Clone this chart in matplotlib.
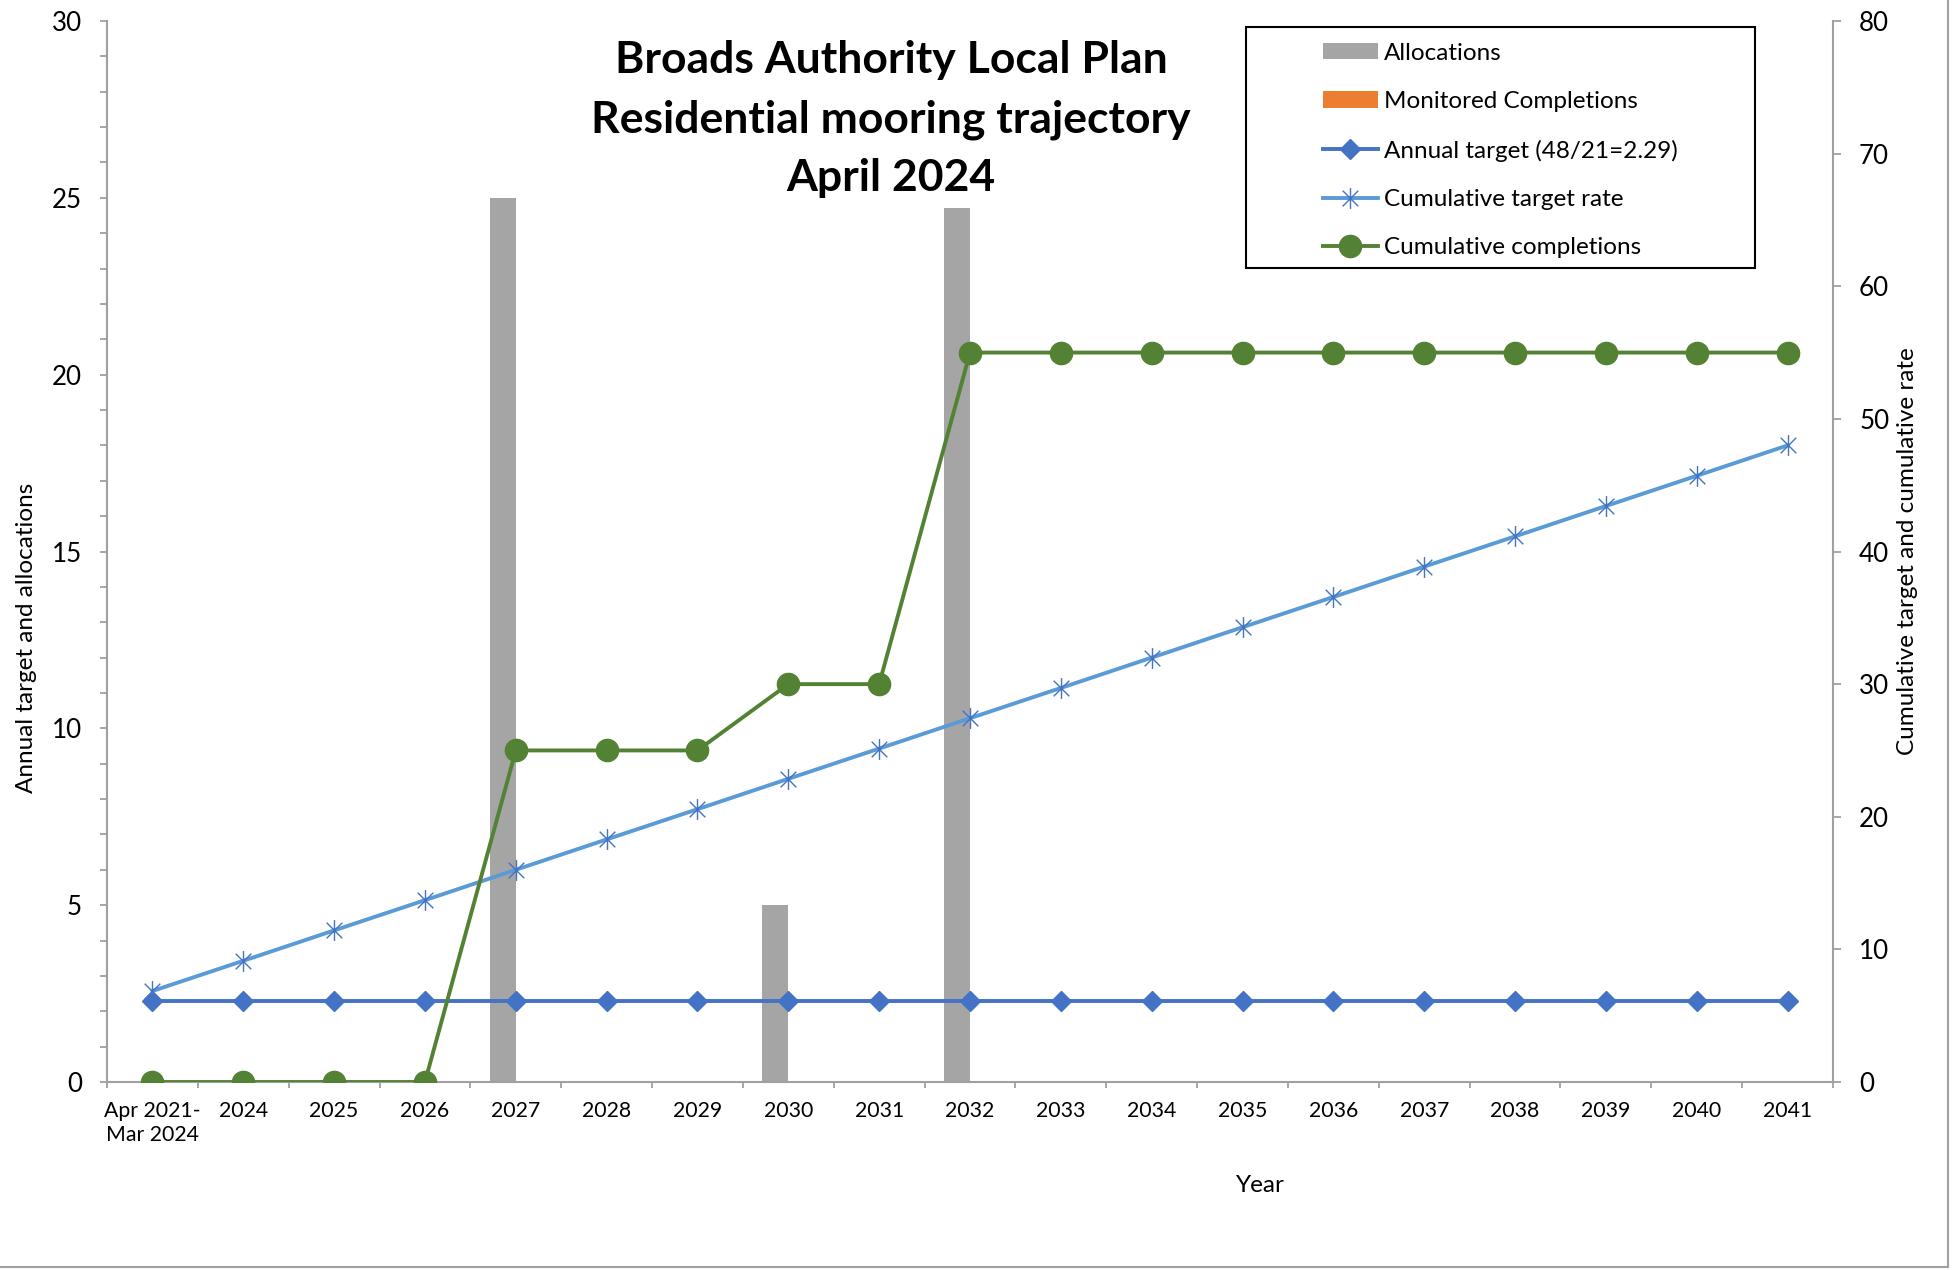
import matplotlib
matplotlib.use("Agg")
import matplotlib.pyplot as plt
from matplotlib.path import Path
from matplotlib.lines import Line2D
from matplotlib.patches import Patch, Rectangle
import numpy as np

plt.rcParams['font.family'] = ['Lato', 'DejaVu Sans']

categories = ["Apr 2021-\nMar 2024", "2024", "2025", "2026", "2027", "2028", "2029",
              "2030", "2031", "2032", "2033", "2034", "2035", "2036", "2037", "2038",
              "2039", "2040", "2041"]
allocations = [0, 0, 0, 0, 25, 0, 0, 5, 0, 24.7, 0, 0, 0, 0, 0, 0, 0, 0, 0]
monitored_completions = [0, 0, 0, 0, 0, 0, 0, 0, 0, 0, 0, 0, 0, 0, 0, 0, 0, 0, 0]
annual_target = [2.29, 2.29, 2.29, 2.29, 2.29, 2.29, 2.29, 2.29, 2.29, 2.29,
                 2.29, 2.29, 2.29, 2.29, 2.29, 2.29, 2.29, 2.29, 2.29]
cumulative_target = [6.86, 9.14, 11.43, 13.71, 16.0, 18.29, 20.57, 22.86, 25.14, 27.43,
                     29.71, 32.0, 34.29, 36.57, 38.86, 41.14, 43.43, 45.71, 48.0]
cumulative_completions = [0, 0, 0, 0, 25, 25, 25, 30, 30, 55, 55, 55, 55, 55, 55, 55, 55, 55, 55]

C_GREY = '#A5A5A5'
C_ORANGE = '#ED7D31'
C_BLUE = '#4472C4'
C_LBLUE = '#5B9BD5'
C_GREEN = '#548235'
C_AXIS = '#A0A0A0'

W, H = 1954, 1271
fig = plt.figure(figsize=(W / 100, H / 100), dpi=100)
ax = fig.add_axes([107 / W, 1 - 1082 / H, (1833 - 107) / W, (1082 - 21) / H])
ax2 = ax.twinx()

LW = 2.8
x = np.arange(len(categories))
bw = 0.286
ax.bar(x - bw, allocations, width=bw, align='edge', color=C_GREY, zorder=2)
ax.bar(x, monitored_completions, width=bw, align='edge', color=C_ORANGE, zorder=2)
ax.plot(x, annual_target, color=C_BLUE, lw=LW, marker='D', ms=10.5, zorder=3)

star = Path([(0, -1), (0, 1), (-0.75, -0.75), (0.75, 0.75), (-0.75, 0.75), (0.75, -0.75)],
            [Path.MOVETO, Path.LINETO, Path.MOVETO, Path.LINETO, Path.MOVETO, Path.LINETO])
ax2.plot(x, cumulative_target, color=C_LBLUE, lw=LW, marker=star, ms=15,
         mec=C_BLUE, mew=1.0, mfc='none', zorder=3)
ax2.plot(x, cumulative_completions, color=C_GREEN, lw=LW, marker='o', ms=16,
         mec=C_GREEN, mfc=C_GREEN, zorder=4)

ax.set_xlim(-0.5, len(categories) - 0.5)
ax.set_ylim(0, 30)
ax2.set_ylim(0, 80)

ax.set_yticks(np.arange(0, 31, 5))
ax.set_yticks(np.arange(0, 31, 1), minor=True)
ax2.set_yticks(np.arange(0, 81, 10))
ax.set_xticks(x)
ax.set_xticklabels(categories, fontsize=15.3, va='top', linespacing=1.2)
ax.set_xticks(np.arange(-0.5, len(categories), 1), minor=True)

for a in (ax, ax2):
    for s in a.spines.values():
        s.set_color(C_AXIS)
        s.set_linewidth(1.5)
    a.spines['top'].set_visible(False)
ax.spines['right'].set_visible(False)
ax2.spines['left'].set_visible(False)
ax2.spines['bottom'].set_visible(False)

ax.tick_params(axis='y', which='major', length=5, width=1.3, color=C_AXIS, labelsize=18.7, pad=13)
ax.tick_params(axis='y', which='minor', length=5, width=1.3, color=C_AXIS)
ax.tick_params(axis='x', which='major', length=0, pad=14)
ax.tick_params(axis='x', which='minor', length=4, width=1.3, color=C_AXIS)
ax2.tick_params(axis='y', which='major', length=5.8, width=1.3, color=C_AXIS, labelsize=18.7, pad=13)

# titles & labels
title_lines = ["Broads Authority Local Plan", "Residential mooring trajectory", "April 2024"]
for i, t in enumerate(title_lines):
    fig.text(891 / W, 1 - (60.5 + 59 * i) / H, t, ha='center', va='center',
             fontsize=32, fontweight='bold')

fig.text(1260 / W, 1 - 1186 / H, "Year", ha='center', va='center', fontsize=17.5)
fig.text(27 / W, 1 - 638 / H, "Annual target and allocations", ha='center', va='center',
         rotation=90, fontsize=17.5)
fig.text(1908 / W, 1 - 551 / H, "Cumulative target and cumulative rate", ha='center',
         va='center', rotation=90, fontsize=17.5)

# legend
handles = [
    Patch(facecolor=C_GREY, edgecolor='none'),
    Patch(facecolor=C_ORANGE, edgecolor='none'),
    Line2D([], [], color=C_BLUE, lw=LW, marker='D', ms=10.5),
    Line2D([], [], color=C_LBLUE, lw=LW, marker=star, ms=15, mec=C_BLUE, mew=1.0),
    Line2D([], [], color=C_GREEN, lw=LW, marker='o', ms=16),
]
labels = ["Allocations", "Monitored Completions", "Annual target (48/21=2.29)",
          "Cumulative target rate", "Cumulative completions"]
fig.legend(handles, labels, loc='upper left', bbox_to_anchor=(1323 / W, 1 - 42.5 / H),
           frameon=False, fontsize=17.5, handlelength=2.25, handleheight=0.65,
           handletextpad=0.25, labelspacing=1.13, borderpad=0, borderaxespad=0)
fig.patches.append(Rectangle((1246 / W, 1 - 268 / H), (1755 - 1246) / W, (268 - 27) / H,
                             transform=fig.transFigure, fill=False, edgecolor='black',
                             lw=1.5, zorder=5))

# outer chart border (bottom and right visible)
fig.add_artist(Line2D([0, 1948 / W], [1 - 1267 / H, 1 - 1267 / H], transform=fig.transFigure,
                      color=C_AXIS, lw=1.5))
fig.add_artist(Line2D([1948 / W, 1948 / W], [1 - 1267 / H, 1], transform=fig.transFigure,
                      color=C_AXIS, lw=1.5))

fig.savefig("out.png", dpi=100)
